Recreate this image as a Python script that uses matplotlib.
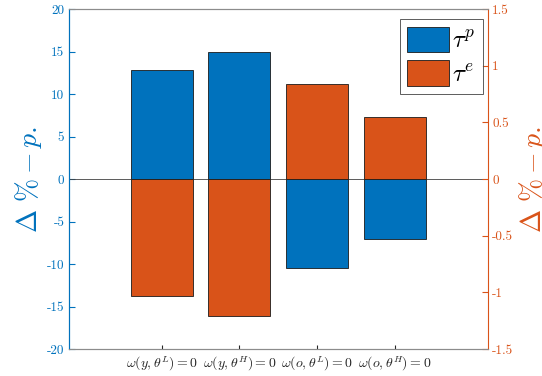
import matplotlib
matplotlib.use('Agg')
import matplotlib.pyplot as plt
import numpy as np

plt.rcParams['mathtext.fontset'] = 'cm'
plt.rcParams['axes.unicode_minus'] = False

# data
categories = [r'$\omega(y,\theta^L) = 0$', r'$\omega(y,\theta^H) = 0$',
              r'$\omega(o,\theta^L) = 0$', r'$\omega(o,\theta^H) = 0$']
tau_p = [12.8, 15.0, -10.5, -7.0]      # left axis
tau_e = [-1.03, -1.21, 0.84, 0.55]     # right axis
left_ticks = [-20, -15, -10, -5, 0, 5, 10, 15, 20]
right_ticks = [-1.5, -1, -0.5, 0, 0.5, 1, 1.5]

BLUE = '#0072BD'
ORANGE = '#D95319'

fig = plt.figure(figsize=(5.42, 3.76), dpi=100)
ax1 = fig.add_axes([0.1264, 0.0718, 0.774, 0.9042])
ax2 = ax1.twinx()

x = np.arange(1, len(categories) + 1)
b1 = ax1.bar(x, tau_p, width=0.8, color=BLUE, edgecolor='#1a1a1a', linewidth=0.6, zorder=2)
b2 = ax2.bar(x, tau_e, width=0.8, color=ORANGE, edgecolor='#1a1a1a', linewidth=0.6, zorder=2)
ax1.axhline(0, color='#404040', linewidth=0.6, zorder=3)

ax1.set_xlim(-0.2, 5.2)
ax1.set_ylim(-20, 20)
ax2.set_ylim(-1.5, 1.5)

ax1.set_xticks(x)
ax1.set_xticklabels(categories, fontsize=10, color='#262626')
ax1.set_yticks(left_ticks)
ax1.set_yticklabels([str(t) for t in left_ticks], fontfamily='cmr10', fontsize=9.5, color=BLUE)
ax2.set_yticks(right_ticks)
ax2.set_yticklabels([('%g' % t) for t in right_ticks], fontfamily='cmr10', fontsize=9.5, color=ORANGE)

ax1.tick_params(axis='x', direction='in', length=3, color='#262626', pad=4)
ax1.tick_params(axis='y', direction='in', length=4, color=BLUE, pad=3)
ax2.tick_params(axis='y', direction='in', length=4, color=ORANGE, pad=3)

for ax in (ax1, ax2):
    ax.spines['top'].set_color('#8c8c8c')
    ax.spines['bottom'].set_color('#8c8c8c')
    ax.spines['top'].set_linewidth(0.8)
    ax.spines['bottom'].set_linewidth(0.8)
ax1.spines['left'].set_color(BLUE)
ax2.spines['left'].set_color(BLUE)
ax2.spines['right'].set_color(ORANGE)
ax1.spines['right'].set_visible(False)

ax1.set_ylabel(r'$\Delta\ \% - p.$', fontsize=20, color=BLUE, labelpad=2)
ax2.set_ylabel(r'$\Delta\ \% - p.$', fontsize=20, color=ORANGE, labelpad=3)

leg = ax2.legend([b1, b2], [r'$\tau^p$', r'$\tau^e$'], loc='upper right',
                 bbox_to_anchor=(483 / 542, 1 - 19 / 376), bbox_transform=fig.transFigure,
                 fontsize=18, frameon=True, fancybox=False, edgecolor='#333333',
                 handlelength=1.65, handleheight=1.2, handletextpad=0.15,
                 borderpad=0.3, labelspacing=0.3, borderaxespad=0.0)
leg.get_frame().set_linewidth(0.7)

fig.savefig('out.png', dpi=100)
